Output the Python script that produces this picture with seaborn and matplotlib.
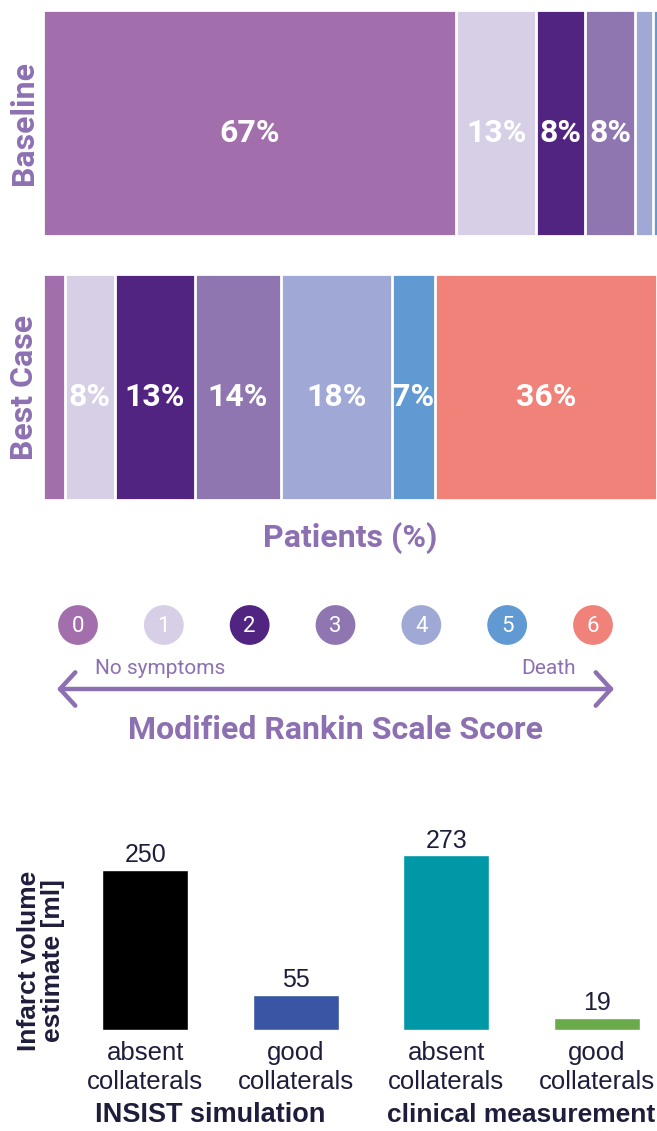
import numpy as np
import pandas as pd
import matplotlib
matplotlib.use("Agg")
import matplotlib.pyplot as plt
import seaborn as sns

# ---- data ----
mrs_scores = ["0", "1", "2", "3", "4", "5", "6"]
mrs_colors = ["#a36eac", "#d6cfe6", "#522482", "#8f76b0", "#a0a9d6", "#6199d2", "#f0827a"]
baseline_pct = [67, 13, 8, 8, 3, 1, 0]
bestcase_pct = [3.6, 8, 13, 14, 18, 7, 36]
baseline_labels = ["67%", "13%", "8%", "8%", "", "", ""]
bestcase_labels = ["", "8%", "13%", "14%", "18%", "7%", "36%"]

collateral_labels = ["absent\ncollaterals", "good\ncollaterals", "absent\ncollaterals", "good\ncollaterals"]
source_groups = ["INSIST simulation", "INSIST simulation", "clinical measurement", "clinical measurement"]
infarct_volume = [250, 55, 273, 19]
infarct_colors = ["#000000", "#3a55a4", "#0097a7", "#6aaa4a"]

PURPLE = "#8d70b2"
NAVY = "#1e1e3c"
ARIAL = ["Liberation Sans", "DejaVu Sans"]

sns.set_theme(style="white")
plt.rcParams["font.family"] = ["Roboto", "DejaVu Sans"]

W, H = 657, 1131
fig = plt.figure(figsize=(W / 100, H / 100), dpi=100)


def px_axes(left, top, right, bottom):
    return fig.add_axes([left / W, 1 - bottom / H, (right - left) / W, (bottom - top) / H])


def stacked_bar(ax, name, values, labels):
    cum = np.cumsum(values)
    # draw longest first so each shorter cumulative bar sits on top
    for i in range(len(values) - 1, -1, -1):
        if values[i] <= 0:
            continue
        sns.barplot(x=[cum[i]], y=[name], orient="h", color=mrs_colors[i],
                    saturation=1, width=1.0, edgecolor="white", linewidth=2, ax=ax)
    for i, (v, lab) in enumerate(zip(values, labels)):
        if lab:
            ax.text(cum[i] - v / 2, 0.045, lab, ha="center", va="center", color="white",
                    fontsize=23, fontweight="bold")
    ax.set_xlim(0, 99.6)
    ax.set_ylim(0.5, -0.5)
    ax.set_yticks([])
    ax.set_xticks([])
    for s in ax.spines.values():
        s.set_visible(False)
    ax.set_ylabel(name, color=PURPLE, fontsize=23, fontweight="bold", labelpad=3)


ax1 = px_axes(43, 10, 657, 236)
stacked_bar(ax1, "Baseline", baseline_pct, baseline_labels)
ax1.set_xlabel("")

ax2 = px_axes(43, 274, 657, 500)
stacked_bar(ax2, "Best Case", bestcase_pct, bestcase_labels)
ax2.set_xlabel("Patients (%)", color=PURPLE, fontsize=23, fontweight="bold", labelpad=16)

# ---- score legend ----
axl = fig.add_axes([0, 0, 1, 1])
axl.set_xlim(0, W)
axl.set_ylim(H, 0)
axl.axis("off")
axl.patch.set_alpha(0)
cx = np.linspace(78, 593, len(mrs_scores))
axl.scatter(cx, [625] * len(cx), s=820, c=mrs_colors, linewidths=0)
for x, s in zip(cx, mrs_scores):
    axl.text(x, 626, s, ha="center", va="center", color="white", fontsize=16)
axl.text(95, 668, "No symptoms", ha="left", va="center", color=PURPLE, fontsize=15)
axl.text(576, 668, "Death", ha="right", va="center", color=PURPLE, fontsize=15)
axl.annotate("", xy=(614, 689), xytext=(57, 689),
             arrowprops=dict(arrowstyle="<->,head_length=0.55,head_width=0.6",
                             lw=3.2, color=PURPLE, mutation_scale=20,
                             shrinkA=0, shrinkB=0))
axl.text(336, 730, "Modified Rankin Scale Score", ha="center", va="center",
         color=PURPLE, fontsize=23, fontweight="bold")

# ---- infarct volume bars ----
df = pd.DataFrame({
    "bar": [f"{g}|{c}" for g, c in zip(source_groups, collateral_labels)],
    "volume": infarct_volume,
})
ax3 = px_axes(70, 838, 657, 1030)
sns.barplot(data=df, x="bar", y="volume", hue="bar", palette=infarct_colors,
            saturation=1, width=0.57, legend=False, ax=ax3)
ax3.set_xlim(-0.5, 3.4)
ax3.set_ylim(0, 300)
for s in ax3.spines.values():
    s.set_visible(False)
ax3.set_yticks([])
ax3.set_xticks(range(len(collateral_labels)))
ax3.set_xticklabels(collateral_labels, fontsize=18.5, color=NAVY,
                    family=ARIAL, linespacing=1.25)
ax3.tick_params(axis="x", length=0, pad=8)
ax3.set_xlabel("")
for i, v in enumerate(infarct_volume):
    ax3.text(i, v + 4, str(v), ha="center", va="bottom", fontsize=18, color=NAVY,
             family=ARIAL)
ax3.set_ylabel("Infarct volume\nestimate [ml]", fontsize=19, fontweight="bold",
               color=NAVY, family=ARIAL, linespacing=1.0)
ax3.yaxis.set_label_coords(-0.008, 0.36)

# group captions under each pair of bars
fig.text(210 / W, 1 - 1115 / H, source_groups[0], ha="center", va="center",
         fontsize=19.5, fontweight="bold", color=NAVY, family=ARIAL)
fig.text(655 / W, 1 - 1115 / H, source_groups[2], ha="right", va="center",
         fontsize=19, fontweight="bold", color=NAVY, family=ARIAL)

fig.savefig("out.png", dpi=100)
